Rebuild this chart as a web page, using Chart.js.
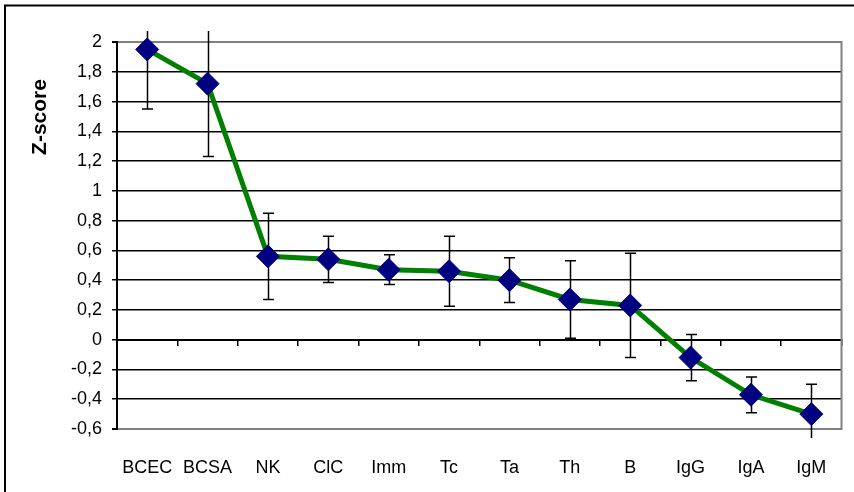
<!DOCTYPE html>
<html>
<head>
<meta charset="utf-8">
<script src="https://cdn.jsdelivr.net/npm/chart.js@4.4.1/dist/chart.umd.min.js"></script>
<style>
    html, body { margin: 0; padding: 0; background: #fff; }
    #wrap { width: 854px; height: 492px; position: relative; }
</style>
</head>
<body>
<div id="wrap"><canvas id="zChart"></canvas></div>
<script>
// Data
const categories = ['BCEC', 'BCSA', 'NK', 'ClC', 'Imm', 'Tc', 'Ta', 'Th', 'B', 'IgG', 'IgA', 'IgM'];
const zScores = [1.95, 1.72, 0.56, 0.54, 0.47, 0.46, 0.40, 0.27, 0.23, -0.12, -0.37, -0.50];
const zErrors = [0.40, 0.49, 0.29, 0.155, 0.10, 0.235, 0.15, 0.26, 0.35, 0.155, 0.12, 0.20];
const yTitle = 'Z-score';

const fontFamily = '"Liberation Sans", Arial, sans-serif';

function formatTick(v) {
    return Number(v.toFixed(1)).toString().replace('.', ',');
}

function isEdge(v) {
    return Math.abs(v - 2) < 1e-6 || Math.abs(v + 0.6) < 1e-6;
}

// frame, outer border and y title
const framePlugin = {
    id: 'frame',
    beforeDraw(chart) {
        const ctx = chart.ctx;
        ctx.save();
        ctx.strokeStyle = '#000';
        ctx.lineWidth = 2;
        ctx.beginPath();
        ctx.moveTo(5, 492);
        ctx.lineTo(5, 5.5);
        ctx.lineTo(854, 5.5);
        ctx.stroke();
        ctx.restore();
    },
    afterDraw(chart) {
        const ctx = chart.ctx;
        const a = chart.chartArea;
        ctx.save();
        ctx.strokeStyle = '#808080';
        ctx.lineWidth = 2;
        ctx.beginPath();
        ctx.moveTo(a.right, a.top - 1);
        ctx.lineTo(a.right, a.bottom + 1);
        ctx.stroke();
        ctx.translate(40, a.top + 75);
        ctx.rotate(-Math.PI / 2);
        ctx.fillStyle = '#000';
        ctx.font = 'bold 21px ' + fontFamily;
        ctx.textAlign = 'center';
        ctx.textBaseline = 'middle';
        ctx.fillText(yTitle, 0, 0);
        ctx.restore();
    }
};

// error bars drawn under the line and markers
const errorBarPlugin = {
    id: 'errorBars',
    beforeDatasetsDraw(chart) {
        const ctx = chart.ctx;
        const xs = chart.scales.x;
        const ys = chart.scales.y;
        const a = chart.chartArea;
        const lo = a.top - 11, hi = a.bottom + 9;
        ctx.save();
        ctx.strokeStyle = '#000';
        ctx.lineWidth = 1.5;
        zScores.forEach(function (v, i) {
            const x = Math.round(xs.getPixelForValue(i)) + 0.5;
            let yTop = ys.getPixelForValue(v + zErrors[i]);
            let yBot = ys.getPixelForValue(v - zErrors[i]);
            const capTop = yTop >= lo, capBot = yBot <= hi;
            yTop = Math.max(yTop, lo);
            yBot = Math.min(yBot, hi);
            ctx.beginPath();
            ctx.moveTo(x, yTop);
            ctx.lineTo(x, yBot);
            if (capTop) { ctx.moveTo(x - 5.5, yTop); ctx.lineTo(x + 5.5, yTop); }
            if (capBot) { ctx.moveTo(x - 5.5, yBot); ctx.lineTo(x + 5.5, yBot); }
            ctx.stroke();
        });
        ctx.restore();
    }
};

new Chart(document.getElementById('zChart'), {
    type: 'line',
    data: {
        labels: categories,
        datasets: [{
            data: zScores,
            borderColor: '#008000',
            borderWidth: 5,
            pointStyle: 'rectRot',
            pointRadius: 11.5,
            pointHoverRadius: 11.5,
            pointBackgroundColor: '#000080',
            pointBorderColor: '#000080',
            pointBorderWidth: 1,
            tension: 0,
            clip: false
        }]
    },
    options: {
        responsive: true,
        maintainAspectRatio: false,
        animation: false,
        events: [],
        layout: { padding: { left: 0, top: 42, right: 10, bottom: 0 } },
        plugins: {
            legend: { display: false },
            tooltip: { enabled: false }
        },
        scales: {
            x: {
                type: 'category',
                offset: true,
                grid: { display: false },
                border: { display: true, color: '#808080', width: 2 },
                ticks: {
                    color: '#000',
                    padding: 20,
                    maxRotation: 0,
                    autoSkip: false,
                    font: { family: fontFamily, size: 18 }
                },
                afterFit(scale) { scale.height = 63; }
            },
            x2: {
                type: 'category',
                labels: categories,
                position: { y: 0 },
                offset: true,
                grid: {
                    display: true,
                    offset: true,
                    drawOnChartArea: false,
                    drawTicks: true,
                    tickLength: 5,
                    color: '#000',
                    tickColor: '#000',
                    lineWidth: 1.5
                },
                border: { display: true, color: '#000', width: 2 },
                ticks: { display: false }
            },
            y: {
                min: -0.6,
                max: 2,
                grid: {
                    color: function (c) { return isEdge(c.tick.value) ? '#808080' : '#000'; },
                    lineWidth: function (c) { return isEdge(c.tick.value) ? 2 : 1.5; },
                    tickColor: '#000',
                    tickLength: 5
                },
                border: { display: true, color: '#000', width: 2 },
                ticks: {
                    stepSize: 0.2,
                    color: '#000',
                    padding: 10,
                    font: { family: fontFamily, size: 18 },
                    callback: function (v) { return formatTick(v); }
                },
                afterFit(scale) { scale.width = 117; }
            }
        }
    },
    plugins: [framePlugin, errorBarPlugin]
});
</script>
</body>
</html>
